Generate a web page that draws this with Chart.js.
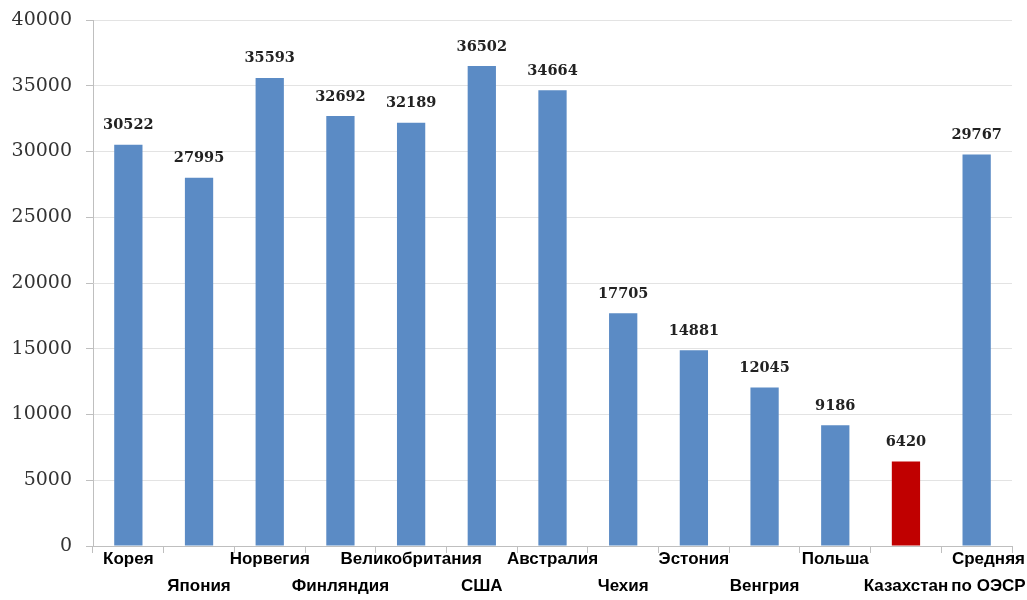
<!DOCTYPE html>
<html>
<head>
<meta charset="utf-8">
<script src="https://cdn.jsdelivr.net/npm/chart.js@4"></script>
<style>
  html, body { margin: 0; padding: 0; background: #fff; }
  #wrap { width: 1027px; height: 600px; }
</style>
</head>
<body>
<div id="wrap"><canvas id="incomeGraph"></canvas></div>
<script>
const countries = ["Корея", "Япония", "Норвегия", "Финляндия", "Великобритания", "США",
    "Австралия", "Чехия", "Эстония", "Венгрия", "Польша", "Казахстан", ["     Средняя", "     по ОЭСР"]];
const values = [30522, 27995, 35593, 32692, 32189, 36502, 34664, 17705, 14881, 12045, 9186, 6420, 29767];
const barColors = ["#5b8bc5", "#5b8bc5", "#5b8bc5", "#5b8bc5", "#5b8bc5", "#5b8bc5", "#5b8bc5",
    "#5b8bc5", "#5b8bc5", "#5b8bc5", "#5b8bc5", "#c00000", "#5b8bc5"];
const yTicks = [0, 5000, 10000, 15000, 20000, 25000, 30000, 35000, 40000];

// values above the bars
const valueLabels = {
    id: 'valueLabels',
    afterDatasetsDraw(chart) {
        const c = chart.ctx;
        const meta = chart.getDatasetMeta(0);
        c.save();
        c.font = 'bold 14.5px "DejaVu Serif"';
        c.fillStyle = '#222';
        c.textAlign = 'center';
        c.textBaseline = 'bottom';
        meta.data.forEach((bar, i) => {
            c.fillText(values[i], bar.x, bar.y - 12);
        });
        c.restore();
    }
};

const ctx = document.getElementById('incomeGraph').getContext('2d');

new Chart(ctx, {
    type: 'bar',
    data: {
        labels: countries,
        datasets: [{
            data: values,
            backgroundColor: barColors,
            categoryPercentage: 0.4,
            barPercentage: 1
        }]
    },
    options: {
        responsive: true,
        maintainAspectRatio: false,
        animation: false,
        layout: { padding: { top: 0, right: 15, left: 0, bottom: 0 } },
        scales: {
            x: {
                grid: { offset: true, drawOnChartArea: false, drawTicks: true, tickLength: 7, color: '#bfbfbf' },
                border: { color: '#bfbfbf' },
                ticks: {
                    autoSkip: false,
                    maxRotation: 0,
                    minRotation: 0,
                    padding: -7,
                    color: '#000',
                    font: { family: '"Liberation Sans"', weight: 'bold', size: 17, lineHeight: 1.6 },
                    callback: (v, i) => i % 2 === 1 ? ['', countries[i]] : countries[i]
                },
                afterFit: (axis) => { axis.height = 54; }
            },
            y: {
                min: 0,
                max: 40000,
                afterBuildTicks: (axis) => { axis.ticks = yTicks.map(v => ({ value: v })); },
                grid: { color: '#e3e3e3', tickLength: 7, tickColor: '#bfbfbf' },
                border: { color: '#bfbfbf' },
                ticks: {
                    padding: 14,
                    color: '#333',
                    font: { family: '"DejaVu Serif"', size: 19 },
                    callback: (v) => String(v)
                },
                afterFit: (axis) => { axis.width = 93; axis.paddingTop = 20; }
            }
        },
        plugins: {
            legend: { display: false },
            tooltip: { enabled: false }
        }
    },
    plugins: [valueLabels]
});
</script>
</body>
</html>
